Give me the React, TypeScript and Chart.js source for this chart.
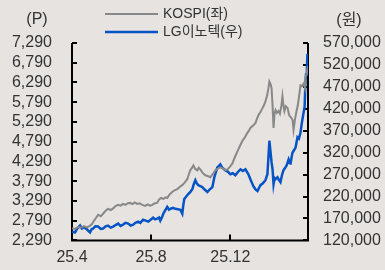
import React, { useEffect, useRef } from "react";
import { Chart, registerables } from "chart.js";

Chart.register(...registerables);

// x positions are months since 2025-04 (25.4 = 0)
const xTickPositions = [0, 4, 8];
const xTickLabels = ["25.4", "25.8", "25.12"];

const leftTickValues = [2290, 2790, 3290, 3790, 4290, 4790, 5290, 5790, 6290, 6790, 7290];
const rightTickValues = [120000, 170000, 220000, 270000, 320000, 370000, 420000, 470000, 520000, 570000];

const kospiX = [
  0.0, 0.15, 0.3, 0.45, 0.6, 0.75, 0.9, 1.0, 1.1, 1.2, 1.32, 1.45, 1.57, 1.7, 1.82, 1.95, 2.08, 2.2, 2.33, 2.45,
  2.58, 2.7, 2.82, 2.94, 3.05, 3.17, 3.29, 3.42, 3.55, 3.7, 3.82, 3.95, 4.05, 4.18, 4.3, 4.4, 4.5, 4.62, 4.72, 4.81,
  4.92, 5.06, 5.18, 5.32, 5.45, 5.57, 5.7, 5.82, 5.9, 5.97, 6.05, 6.13, 6.22, 6.33, 6.4, 6.48, 6.6, 6.73, 6.85, 6.99,
  7.1, 7.24, 7.35, 7.49, 7.62, 7.75, 7.85, 7.97, 8.1, 8.22, 8.35, 8.48, 8.61, 8.73, 8.86, 8.95, 9.01, 9.15, 9.27, 9.35,
  9.42, 9.52, 9.62, 9.7, 9.77, 9.85, 9.92, 9.97, 10.03, 10.08, 10.13, 10.18, 10.23, 10.28, 10.35, 10.43, 10.5, 10.58,
  10.63, 10.68, 10.73, 10.8, 10.89, 10.95, 10.99, 11.07, 11.14, 11.19, 11.26, 11.34, 11.4, 11.44, 11.5, 11.54, 11.62,
  11.7, 11.76, 11.8, 11.85, 11.92,
];
const kospiValues = [
  2600, 2580, 2630, 2610, 2650, 2620, 2660, 2700, 2780, 2850, 2940, 2900, 2965, 3040, 3090, 3060, 3100, 3160, 3190, 3170,
  3215, 3190, 3230, 3240, 3210, 3250, 3215, 3230, 3190, 3165, 3200, 3170, 3190, 3230, 3240, 3330, 3365, 3340, 3380, 3365,
  3450, 3515, 3560, 3590, 3650, 3690, 3760, 3840, 3960, 4065, 4120, 4190, 4100, 4065, 4130, 4090, 4000, 3940, 3920, 3890,
  3960, 4065, 4100, 4140, 4110, 4070, 4090, 4150, 4240, 4390, 4540, 4680, 4815, 4900, 5015, 5080, 5140, 5200, 5265, 5380,
  5465, 5540, 5640, 5720, 5815, 5950, 6140, 6315, 6250, 6140, 5715, 5140, 5500, 5590, 5520, 5565, 5500, 5715,
  5940, 5700, 5565, 5690, 5640, 5500, 5440, 5400, 5340, 5090, 5350, 5565, 5700, 5840, 6050, 6215, 6200,
  6265, 6150, 6440, 6500, 6700,
];

const lgX = [
  0.0, 0.15, 0.28, 0.41, 0.5, 0.62, 0.76, 0.91, 1.0, 1.06, 1.18, 1.32, 1.45, 1.57, 1.7, 1.82, 1.95, 2.08, 2.2, 2.33,
  2.45, 2.58, 2.7, 2.84, 2.96, 3.09, 3.2, 3.34, 3.45, 3.59, 3.72, 3.85, 3.97, 4.1, 4.2, 4.3, 4.4, 4.46, 4.54, 4.61,
  4.7, 4.81, 4.9, 4.96, 5.1, 5.22, 5.35, 5.47, 5.57, 5.62, 5.67, 5.77, 5.87, 5.97, 6.08, 6.15, 6.23, 6.3, 6.38, 6.48,
  6.58, 6.7, 6.84, 6.95, 7.09, 7.19, 7.27, 7.34, 7.42, 7.49, 7.6, 7.75, 7.87, 8.0, 8.12, 8.25, 8.38, 8.51, 8.63, 8.76,
  8.91, 9.01, 9.1, 9.16, 9.27, 9.37, 9.45, 9.52, 9.64, 9.77, 9.87, 9.92, 9.97, 10.03, 10.08, 10.13, 10.18, 10.23, 10.28,
  10.38, 10.45, 10.53, 10.6, 10.68, 10.76, 10.84, 10.94, 11.0, 11.04, 11.1, 11.14, 11.22, 11.29, 11.39, 11.46, 11.54,
  11.6, 11.65, 11.7, 11.75, 11.79, 11.82, 11.86, 11.89, 11.92,
];
const lgValues = [
  140000, 138000, 148000, 153750, 147000, 150000, 144750, 138000, 146000, 147000, 152000, 151500, 146000, 147000, 152000,
  153750, 149000, 151500, 155000, 158250, 153000, 156000, 160000, 158250, 154000, 156000, 160000, 162750, 160000, 167250,
  165000, 162750, 167000, 171750, 168000, 169500, 172000, 165000, 172000, 180750, 188000, 196500, 190000, 192000, 194000,
  192000, 191000, 189750, 180750, 200000, 214500, 220000, 225750, 230000, 237000, 248000, 257250, 250000, 246000, 244000,
  241500, 236000, 230250, 236000, 241500, 264000, 276000, 286500, 290000, 293250, 285000, 279750, 277000, 270750, 273000,
  268500, 276000, 282000, 278000, 282000, 270750, 259500, 250000, 243750, 236000, 232500, 240000, 246000, 250000, 257250,
  270750, 309000, 347250, 320000, 297750, 282000, 248250, 262000, 259500, 264000, 258000, 252750, 268000, 279750, 285000,
  291000, 304500, 296000, 295500, 312000, 320250, 326000, 331500, 355000, 352000, 365250, 385000, 399000, 412000, 425000,
  480000, 498000, 500000, 545000, 535000,
];

const FONT = "'Liberation Sans', Arial, 'Noto Sans CJK KR', sans-serif";
const TEXT = "#333333";
const GRAY = "#888888";
const BLUE = "#0553c4";
const BG = "#e6e3e1";

const decor = {
  id: "decor",
  beforeDatasetsDraw(chart: any) {
    const ctx = chart.ctx;
    const { left, right, top, bottom } = chart.chartArea;
    const yL = chart.scales.y;
    const yR = chart.scales.y1;
    const xs = chart.scales.x;
    ctx.save();
    ctx.strokeStyle = "#000";
    ctx.lineWidth = 2;
    ctx.beginPath();
    ctx.moveTo(left, top);
    ctx.lineTo(left, bottom);
    ctx.lineTo(right, bottom);
    ctx.lineTo(right, top);
    ctx.stroke();
    leftTickValues.forEach((v) => {
      const py = Math.round(yL.getPixelForValue(v));
      ctx.beginPath();
      ctx.moveTo(left, py);
      ctx.lineTo(left + 5, py);
      ctx.stroke();
    });
    rightTickValues.forEach((v) => {
      const py = Math.round(yR.getPixelForValue(v));
      ctx.beginPath();
      ctx.moveTo(right, py);
      ctx.lineTo(right - 5, py);
      ctx.stroke();
    });
    xTickPositions.forEach((v) => {
      const px = Math.round(xs.getPixelForValue(v));
      ctx.beginPath();
      ctx.moveTo(px, bottom);
      ctx.lineTo(px, bottom - 6);
      ctx.stroke();
    });
    ctx.restore();
  },
  afterDraw(chart: any) {
    const ctx = chart.ctx;
    ctx.save();
    ctx.fillStyle = TEXT;
    ctx.textBaseline = "middle";
    ctx.font = `16px ${FONT}`;
    ctx.textAlign = "center";
    ctx.fillText("(P)", 37, 20);
    ctx.fillText("(원)", 349, 21);
    // legend
    ctx.lineWidth = 2;
    ctx.strokeStyle = GRAY;
    ctx.beginPath();
    ctx.moveTo(105, 14);
    ctx.lineTo(158, 14);
    ctx.stroke();
    ctx.lineWidth = 2.5;
    ctx.strokeStyle = BLUE;
    ctx.beginPath();
    ctx.moveTo(105, 32);
    ctx.lineTo(158, 32);
    ctx.stroke();
    ctx.font = `14px ${FONT}`;
    ctx.textAlign = "left";
    ctx.fillText("KOSPI(좌)", 163, 14);
    ctx.fillText("LG이노텍(우)", 163, 32);
    ctx.restore();
  },
};

export default function App() {
  const ref = useRef<HTMLCanvasElement | null>(null);
  useEffect(() => {
    if (!ref.current) return;
    const chart = new Chart(ref.current, {
      type: "line",
      data: {
        datasets: [
          {
            label: "KOSPI(좌)",
            data: kospiX.map((x, i) => ({ x, y: kospiValues[i] })),
            borderColor: GRAY,
            borderWidth: 2,
            pointRadius: 0,
            tension: 0,
            yAxisID: "y",
          },
          {
            label: "LG이노텍(우)",
            data: lgX.map((x, i) => ({ x, y: lgValues[i] })),
            borderColor: BLUE,
            borderWidth: 2.5,
            pointRadius: 0,
            tension: 0,
            yAxisID: "y1",
          },
        ],
      },
      options: {
        responsive: false,
        animation: false,
        layout: { padding: { top: 43, left: 0, right: 0, bottom: 0 } },
        plugins: { legend: { display: false }, tooltip: { enabled: false }, title: { display: false } },
        scales: {
          x: {
            type: "linear",
            min: 0,
            max: 11.92,
            grid: { display: false, drawTicks: false },
            border: { display: false },
            afterBuildTicks: (s: any) => {
              s.ticks = xTickPositions.map((v) => ({ value: v }));
            },
            afterFit: (s: any) => {
              s.height = 26;
            },
            ticks: {
              autoSkip: false,
              maxRotation: 0,
              padding: 8,
              color: TEXT,
              font: { size: 16, family: FONT },
              callback: (v: any) => {
                const i = xTickPositions.indexOf(Number(v));
                return i >= 0 ? xTickLabels[i] : "";
              },
            },
          },
          y: {
            type: "linear",
            position: "left",
            min: 2290,
            max: 7290,
            grid: { display: false, drawTicks: false },
            border: { display: false },
            afterBuildTicks: (s: any) => {
              s.ticks = leftTickValues.map((v) => ({ value: v }));
            },
            afterFit: (s: any) => {
              s.width = 72;
            },
            ticks: {
              autoSkip: false,
              padding: 20,
              color: TEXT,
              font: { size: 16, family: FONT },
              callback: (v: any) => Number(v).toLocaleString("en-US"),
            },
          },
          y1: {
            type: "linear",
            position: "right",
            min: 120000,
            max: 570000,
            grid: { display: false, drawTicks: false },
            border: { display: false },
            afterBuildTicks: (s: any) => {
              s.ticks = rightTickValues.map((v) => ({ value: v }));
            },
            afterFit: (s: any) => {
              s.width = 77;
            },
            ticks: {
              autoSkip: false,
              padding: 15,
              color: TEXT,
              font: { size: 16, family: FONT },
              callback: (v: any) => Number(v).toLocaleString("en-US"),
            },
          },
        },
      },
      plugins: [decor],
    });
    return () => chart.destroy();
  }, []);
  return (
    <div style={{ position: "fixed", left: 0, top: 0, width: 385, height: 270, background: BG }}>
      <canvas ref={ref} width={385} height={270} style={{ display: "block" }} />
    </div>
  );
}
